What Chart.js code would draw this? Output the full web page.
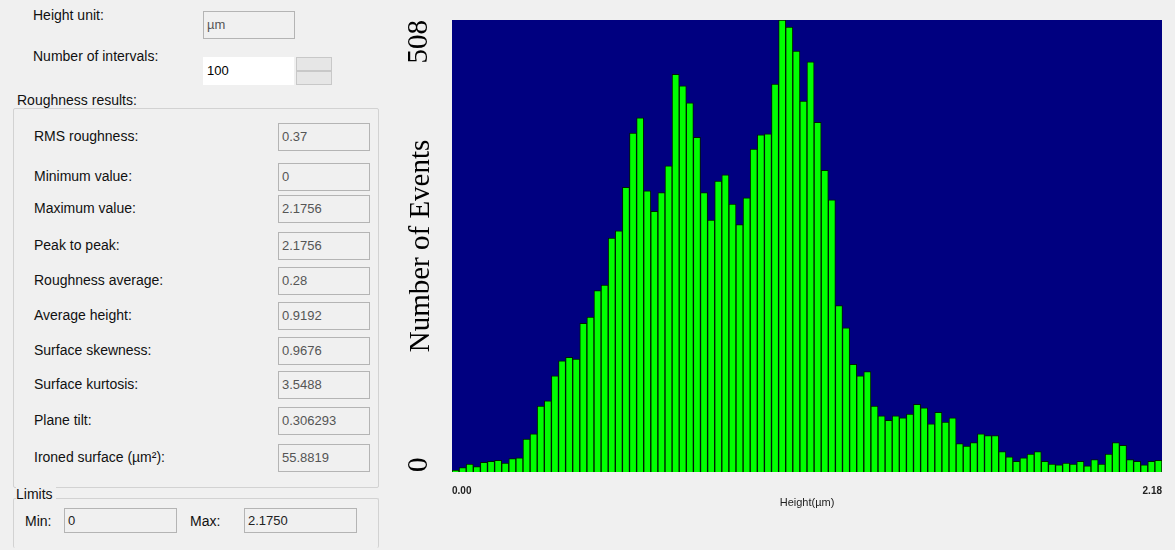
<!DOCTYPE html>
<html>
<head>
<meta charset="utf-8">
<script src="https://cdn.jsdelivr.net/npm/chart.js@4.4.1/dist/chart.umd.min.js"></script>
<style>
    body { margin: 0; width: 1175px; height: 550px; background: #f0f0f0; overflow: hidden;
           font-family: "Liberation Sans", Arial, sans-serif; font-size: 14px; color: #111; }
    .lbl { position: absolute; line-height: 16px; white-space: nowrap; }
    .fld { position: absolute; box-sizing: border-box; height: 28px; line-height: 26px; padding-left: 3px;
           border: 1px solid #b4b4b4; background: #f0f0f0; color: #555; font-size: 13px; }
    .grp { position: absolute; box-sizing: border-box; border: 1px solid #d2d2d2; border-radius: 2px; }
    #chartBox { position: absolute; left: 380px; top: 0; width: 795px; height: 550px; }
</style>
</head>
<body>
<div id="panel"></div>
<div id="chartBox"><canvas id="histChart" width="795" height="550"></canvas></div>
<script>
// histogram data: 100 intervals between min and max height
var binCount = 100;
var heightMin = 0;
var heightMax = 2.1756;
var eventCounts = [
    2, 5, 9, 6, 11, 12, 13, 10, 15, 16,
    37, 43, 74, 80, 108, 125, 129, 127, 167, 174,
    204, 210, 263, 271, 320, 381, 398, 316, 293, 314,
    344, 447, 434, 415, 376, 314, 283, 327, 334, 301,
    278, 308, 363, 379, 380, 436, 508, 500, 473, 417,
    461, 393, 339, 306, 187, 162, 121, 108, 113, 74,
    63, 58, 63, 61, 65, 76, 72, 54, 67, 56,
    61, 32, 29, 33, 43, 41, 41, 23, 17, 12,
    16, 20, 23, 12, 9, 8, 10, 9, 12, 7,
    14, 9, 20, 33, 30, 14, 12, 8, 12, 13
];
var yTickValues = [0, 508];
var xTickValues = [0, 2.1756];

// left panel texts
var resultNames = ['RMS roughness:', 'Minimum value:', 'Maximum value:', 'Peak to peak:', 'Roughness average:',
    'Average height:', 'Surface skewness:', 'Surface kurtosis:', 'Plane tilt:', 'Ironed surface (\u00b5m\u00b2):'];
var resultValues = ['0.37', '0', '2.1756', '2.1756', '0.28', '0.9192', '0.9676', '3.5488', '0.306293', '55.8819'];
var resultRows = [136, 176, 208, 245, 280, 315, 350, 384, 420, 457];

document.addEventListener('DOMContentLoaded', function () {
    var panel = document.getElementById('panel');

    function addDiv(cls, text, css) {
        var d = document.createElement('div');
        d.className = cls;
        if (text !== null) d.textContent = text;
        d.style.cssText = css;
        panel.appendChild(d);
        return d;
    }

    addDiv('lbl', 'Height unit:', 'left:33px;top:7px');
    addDiv('fld', '\u00b5m', 'left:203px;top:11px;width:92px');
    addDiv('lbl', 'Number of intervals:', 'left:33px;top:48px');
    addDiv('fld', String(binCount), 'left:203px;top:57px;width:91px;background:#fff;border-color:#fff;color:#000');
    addDiv('fld', null, 'left:296px;top:57px;width:36px;height:14px;background:#e6e6e6;border-color:#c8c8c8');
    addDiv('fld', null, 'left:296px;top:71px;width:36px;height:14px;background:#e6e6e6;border-color:#c8c8c8');

    addDiv('grp', null, 'left:13px;top:108px;width:366px;height:380px');
    addDiv('lbl', 'Roughness results:', 'left:17px;top:92px;background:#f0f0f0;padding-right:3px');
    for (var i = 0; i < resultNames.length; i++) {
        addDiv('lbl', resultNames[i], 'left:34px;top:' + (resultRows[i] - 8) + 'px');
        addDiv('fld', resultValues[i], 'left:278px;top:' + (resultRows[i] - 13) + 'px;width:92px');
    }

    addDiv('grp', null, 'left:13px;top:498px;width:366px;height:50px;border-bottom:none');
    addDiv('lbl', 'Limits', 'left:16px;top:486px;background:#f0f0f0;padding-right:3px');
    addDiv('lbl', 'Min:', 'left:25px;top:513px');
    addDiv('fld', '0', 'left:64px;top:508px;width:113px;height:25px;line-height:23px;color:#222');
    addDiv('lbl', 'Max:', 'left:190px;top:513px');
    addDiv('fld', '2.1750', 'left:244px;top:508px;width:113px;height:25px;line-height:23px;color:#222');

    // bin labels for the hidden category axis
    var binLabels = [];
    var step = (heightMax - heightMin) / binCount;
    for (var b = 0; b < binCount; b++) {
        binLabels.push((heightMin + (b + 0.5) * step).toFixed(4));
    }

    var navyArea = {
        id: 'navyArea',
        beforeDraw: function (chart) {
            var a = chart.chartArea;
            var ctx = chart.ctx;
            ctx.save();
            ctx.fillStyle = '#000080';
            ctx.fillRect(a.left, a.top, a.right - a.left, a.bottom - a.top);
            ctx.restore();
        }
    };

    // y tick labels are drawn rotated, like the y title
    var rotatedYTicks = {
        id: 'rotatedYTicks',
        afterDraw: function (chart) {
            var s = chart.scales.y;
            var ctx = chart.ctx;
            ctx.save();
            ctx.font = '29px "Liberation Serif", serif';
            ctx.fillStyle = '#000';
            ctx.textBaseline = 'middle';
            yTickValues.forEach(function (v) {
                ctx.save();
                ctx.translate(s.left + 39, s.getPixelForValue(v));
                ctx.rotate(-Math.PI / 2);
                ctx.textAlign = v === s.max ? 'right' : 'left';
                ctx.fillText(String(v), 0, 0);
                ctx.restore();
            });
            ctx.restore();
        }
    };

    var ctx = document.getElementById('histChart').getContext('2d');
    new Chart(ctx, {
        type: 'bar',
        data: {
            labels: binLabels,
            datasets: [{
                label: 'Number of Events',
                data: eventCounts,
                backgroundColor: '#00ff00',
                borderColor: '#001a00',
                borderWidth: 1,
                barPercentage: 1,
                categoryPercentage: 1
            }]
        },
        options: {
            responsive: false,
            animation: false,
            layout: { padding: { top: 20, right: 5, left: 0, bottom: 0 } },
            plugins: {
                legend: { display: false },
                tooltip: { enabled: false }
            },
            scales: {
                x: {
                    display: false,
                    grid: { display: false }
                },
                x2: {
                    type: 'linear',
                    position: 'bottom',
                    offset: false,
                    min: heightMin,
                    max: heightMax,
                    afterBuildTicks: function (scale) {
                        scale.ticks = xTickValues.map(function (v) { return { value: v }; });
                    },
                    afterFit: function (scale) { scale.height = 78; },
                    grid: { display: false, drawTicks: false, offset: false },
                    border: { display: false },
                    ticks: {
                        align: 'inner',
                        padding: 13,
                        maxRotation: 0,
                        autoSkip: false,
                        color: '#222',
                        font: { family: 'Liberation Sans', size: 10, weight: 'bold' },
                        callback: function (v) { return Number(v).toFixed(2); }
                    },
                    title: {
                        display: true,
                        text: 'Height(\u00b5m)',
                        color: '#222',
                        font: { family: 'Liberation Sans', size: 11 },
                        padding: { top: 0, bottom: 40 }
                    }
                },
                y: {
                    min: 0,
                    max: 508,
                    afterFit: function (scale) { scale.width = 72; },
                    grid: { display: false, drawTicks: false },
                    border: { display: false },
                    ticks: { display: false },
                    title: {
                        display: true,
                        text: 'Number of Events',
                        color: '#000',
                        font: { family: 'Liberation Serif', size: 29 },
                        padding: { top: 24, bottom: 0 }
                    }
                }
            }
        },
        plugins: [navyArea, rotatedYTicks]
    });
});
</script>
</body>
</html>
